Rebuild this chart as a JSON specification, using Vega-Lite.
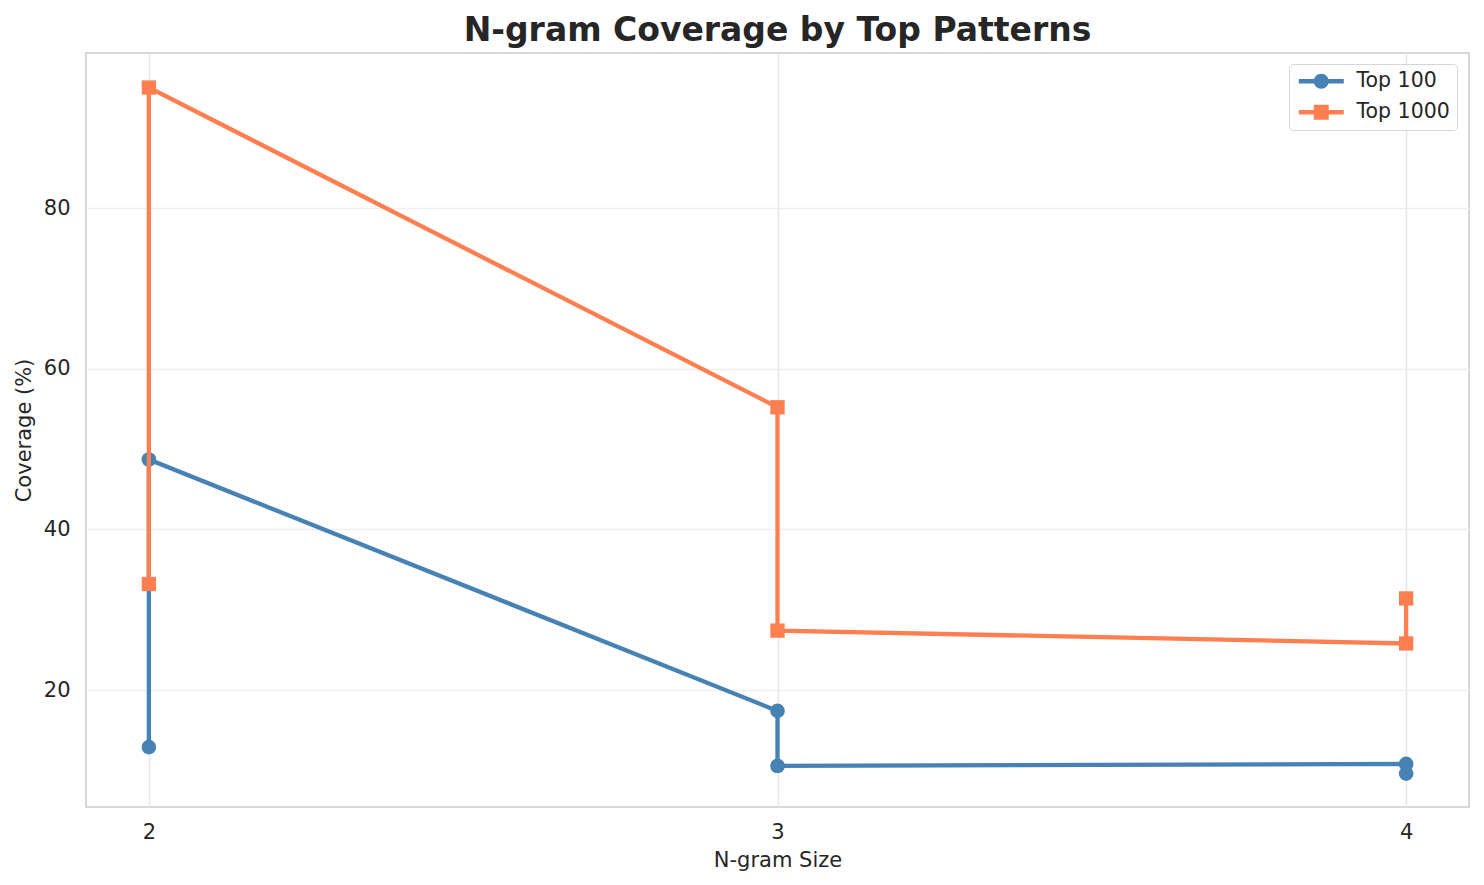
{
  "$schema": "https://vega.github.io/schema/vega-lite/v6.json",
  "width": 1383,
  "height": 754,
  "autosize": {"type": "none"},
  "padding": {"left": 86, "top": 53, "right": 15, "bottom": 78},
  "background": "white",
  "title": {
    "text": "N-gram Coverage by Top Patterns",
    "font": "DejaVu Sans",
    "fontSize": 33,
    "fontWeight": "bold",
    "color": "#262626",
    "anchor": "middle",
    "frame": "group",
    "baseline": "alphabetic",
    "offset": -21
  },
  "data": {
    "values": [
      {"series": "Top 100", "n": 2, "coverage": 12.9, "step": 1},
      {"series": "Top 100", "n": 2, "coverage": 48.7, "step": 2},
      {"series": "Top 100", "n": 3, "coverage": 17.4, "step": 3},
      {"series": "Top 100", "n": 3, "coverage": 10.55, "step": 4},
      {"series": "Top 100", "n": 4, "coverage": 10.8, "step": 5},
      {"series": "Top 100", "n": 4, "coverage": 9.6, "step": 6},
      {"series": "Top 1000", "n": 2, "coverage": 33.2, "step": 1},
      {"series": "Top 1000", "n": 2, "coverage": 95.0, "step": 2},
      {"series": "Top 1000", "n": 3, "coverage": 55.2, "step": 3},
      {"series": "Top 1000", "n": 3, "coverage": 27.4, "step": 4},
      {"series": "Top 1000", "n": 4, "coverage": 25.8, "step": 5},
      {"series": "Top 1000", "n": 4, "coverage": 31.4, "step": 6}
    ]
  },
  "encoding": {
    "x": {
      "field": "n",
      "type": "quantitative",
      "scale": {"domain": [1.9, 4.1], "nice": false, "zero": false},
      "axis": {
        "title": "N-gram Size",
        "values": [2, 3, 4],
        "format": "d",
        "grid": true,
        "gridColor": "#e6e6e6",
        "gridWidth": 1.5,
        "domain": false,
        "ticks": false,
        "labelPadding": 14,
        "titlePadding": 7
      }
    },
    "y": {
      "field": "coverage",
      "type": "quantitative",
      "scale": {"domain": [5.44, 99.3], "nice": false, "zero": false},
      "axis": {
        "title": "Coverage (%)",
        "values": [20, 40, 60, 80],
        "grid": true,
        "gridColor": "#efefef",
        "gridWidth": 1.5,
        "domain": false,
        "ticks": false,
        "labelPadding": 16,
        "titlePadding": 9
      }
    },
    "color": {
      "field": "series",
      "type": "nominal",
      "scale": {"domain": ["Top 100", "Top 1000"], "range": ["#4682b4", "#ff7f50"]},
      "legend": {
        "title": null,
        "orient": "none",
        "legendX": 1203,
        "legendY": 11,
        "padding": 7,
        "strokeColor": "#d6d6d6",
        "fillColor": "rgba(255,255,255,0.8)",
        "cornerRadius": 4,
        "symbolType": "circle",
        "symbolSize": 225,
        "symbolStrokeWidth": 0,
        "symbolOpacity": 1,
        "labelOffset": 40,
        "labelFontSize": 20.5,
        "labelFont": "DejaVu Sans",
        "labelColor": "#262626",
        "rowPadding": 10,
        "encode": {
          "symbols": {
            "update": {
              "shape": {"signal": "datum.value === 'Top 100' ? 'M -1 -0.29 L 5 -0.29 L 5 0.29 L -1 0.29 Z M 1 0 A 1 1 0 1 1 3 0 A 1 1 0 1 1 1 0 Z' : 'M -1 -0.29 L 5 -0.29 L 5 0.29 L -1 0.29 Z M 1 -1 L 3 -1 L 3 1 L 1 1 Z'"},
              "fill": {"signal": "datum.value === 'Top 100' ? '#4682b4' : '#ff7f50'"},
              "strokeWidth": {"value": 0},
              "opacity": {"value": 1}
            }
          }
        }
      }
    }
  },
  "layer": [
    {
      "transform": [{"filter": "datum.series === 'Top 100'"}],
      "mark": {"type": "line", "strokeWidth": 4.3},
      "encoding": {"order": {"field": "step", "type": "quantitative"}}
    },
    {
      "transform": [{"filter": "datum.series === 'Top 100'"}],
      "mark": {"type": "point", "filled": true, "opacity": 1, "size": 215, "strokeWidth": 0, "shape": "circle"}
    },
    {
      "transform": [{"filter": "datum.series === 'Top 1000'"}],
      "mark": {"type": "line", "strokeWidth": 4.3},
      "encoding": {"order": {"field": "step", "type": "quantitative"}}
    },
    {
      "transform": [{"filter": "datum.series === 'Top 1000'"}],
      "mark": {"type": "point", "filled": true, "opacity": 1, "size": 205, "strokeWidth": 0, "shape": "square"}
    }
  ],
  "config": {
    "font": "DejaVu Sans",
    "view": {"stroke": "#cccccc", "strokeWidth": 1.5},
    "axis": {
      "labelFont": "DejaVu Sans",
      "labelFontSize": 21,
      "labelColor": "#262626",
      "titleFont": "DejaVu Sans",
      "titleFontSize": 21,
      "titleFontWeight": "normal",
      "titleColor": "#262626"
    }
  }
}
